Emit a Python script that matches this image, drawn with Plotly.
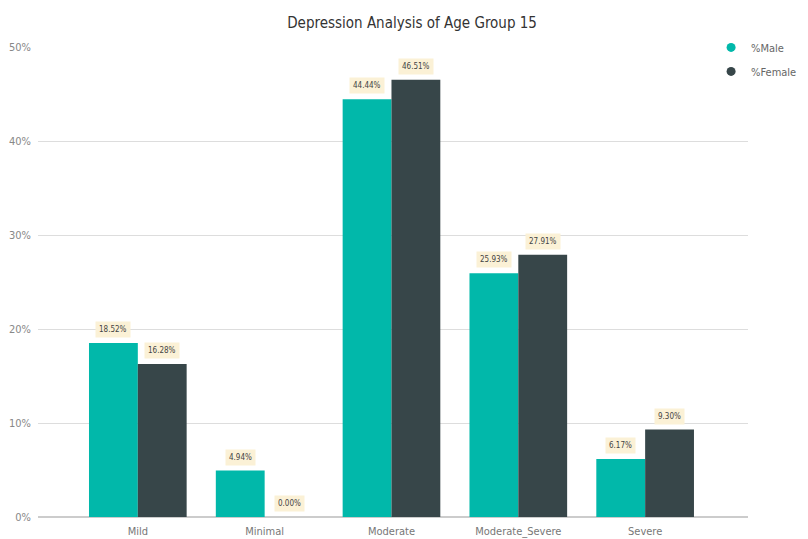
import plotly.graph_objects as go

categories = ["Mild", "Minimal", "Moderate", "Moderate_Severe", "Severe"]
male_pct = [18.52, 4.94, 44.44, 25.93, 6.17]
female_pct = [16.28, 0.00, 46.51, 27.91, 9.30]
y_ticks = [0, 10, 20, 30, 40, 50]
y_tick_labels = ["0%", "10%", "20%", "30%", "40%", "50%"]

MALE_COLOR = "#01B8AA"
FEMALE_COLOR = "#374649"
FONT = "DejaVu Sans Condensed, Roboto, sans-serif"
BARGAP = 0.23

x_idx = list(range(len(categories)))

fig = go.Figure()
fig.add_trace(go.Bar(x=x_idx, y=male_pct, name="%Male", marker_color=MALE_COLOR,
                     marker_line_width=0, showlegend=False, hoverinfo="y"))
fig.add_trace(go.Bar(x=x_idx, y=female_pct, name="%Female", marker_color=FEMALE_COLOR,
                     marker_line_width=0, showlegend=False, hoverinfo="y"))

# circle legend entries
for name, color in [("%Male", MALE_COLOR), ("%Female", FEMALE_COLOR)]:
    fig.add_trace(go.Scatter(x=[None], y=[None], mode="markers", name=name,
                             legendgroup=name,
                             marker=dict(color=color, size=9, symbol="circle")))

# value labels above each bar
half = (1 - BARGAP) / 4
annotations = []
for series, offset in [(male_pct, -half), (female_pct, half)]:
    for i, v in enumerate(series):
        annotations.append(dict(
            x=i + offset, y=v, xref="x", yref="y",
            text=f"{v:.2f}%", showarrow=False,
            yanchor="bottom", yshift=5,
            font=dict(family=FONT, size=8, color="#444444"),
            bgcolor="#FBF1D6", borderpad=3,
        ))

fig.update_layout(
    width=808, height=539,
    margin=dict(l=38, r=60, t=47, b=22, autoexpand=False),
    paper_bgcolor="white", plot_bgcolor="white",
    barmode="group", bargap=BARGAP, bargroupgap=0,
    title=dict(text="Depression Analysis of Age Group 15",
               x=0.51, xanchor="center", y=0.958, yanchor="middle",
               font=dict(family=FONT, size=15, color="#333333")),
    font=dict(family=FONT, color="#777777"),
    legend=dict(x=0.948, y=1.03, xanchor="left", yanchor="top",
                font=dict(family=FONT, size=11, color="#666666"),
                tracegroupgap=5, itemwidth=30, bgcolor="rgba(0,0,0,0)"),
    annotations=annotations,
    xaxis=dict(tickmode="array", tickvals=x_idx, ticktext=categories,
               range=[-0.787, 4.811], showgrid=False, zeroline=False,
               showline=False, ticks="", automargin=False,
               ticklabelstandoff=6,
               tickfont=dict(family=FONT, size=11, color="#777777")),
    yaxis=dict(range=[0, 50], tickvals=y_ticks, ticktext=y_tick_labels,
               showgrid=True, gridcolor="#DDDDDD", gridwidth=1,
               zeroline=True, zerolinecolor="#CCCCCC",
               ticks="", ticklabelstandoff=6, automargin=False,
               tickfont=dict(family=FONT, size=11, color="#888888")),
)

fig.write_html("out.html")
